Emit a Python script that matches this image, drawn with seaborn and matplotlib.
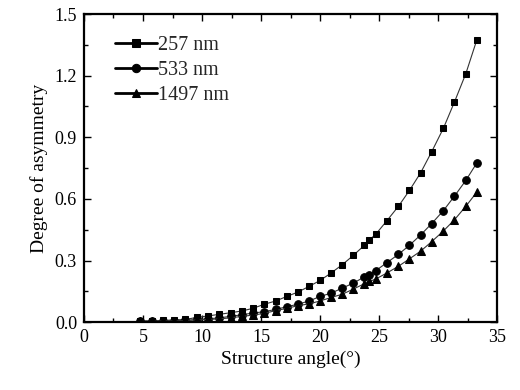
import matplotlib
matplotlib.use("Agg")
import matplotlib.pyplot as plt
import seaborn as sns
import pandas as pd
from matplotlib.ticker import MultipleLocator

angles = [4.75, 5.73, 6.72, 7.65, 8.59, 9.55, 10.48, 11.47, 12.43, 13.36, 14.30,
          15.28, 16.24, 17.18, 18.11, 19.07, 20.00, 20.93, 21.89, 22.82, 23.75,
          24.18, 24.72, 25.65, 26.64, 27.57, 28.53, 29.46, 30.45, 31.38, 32.35, 33.28]

asym_257 = [0.006, 0.006, 0.008, 0.011, 0.013, 0.023, 0.030, 0.038, 0.046, 0.054, 0.067,
            0.087, 0.103, 0.125, 0.146, 0.174, 0.203, 0.239, 0.280, 0.325, 0.374,
            0.400, 0.428, 0.493, 0.564, 0.641, 0.728, 0.830, 0.944, 1.071, 1.210, 1.374]

asym_533 = [0.004, 0.004, 0.006, 0.006, 0.008, 0.013, 0.016, 0.021, 0.028, 0.036, 0.044,
            0.051, 0.062, 0.075, 0.087, 0.103, 0.125, 0.141, 0.166, 0.190, 0.220,
            0.231, 0.251, 0.289, 0.330, 0.374, 0.425, 0.480, 0.543, 0.613, 0.690, 0.775]

asym_1497 = [0.004, 0.004, 0.006, 0.006, 0.008, 0.011, 0.013, 0.016, 0.021, 0.028, 0.034,
             0.043, 0.056, 0.067, 0.080, 0.089, 0.103, 0.120, 0.136, 0.161, 0.187,
             0.198, 0.210, 0.239, 0.272, 0.308, 0.346, 0.392, 0.444, 0.498, 0.564, 0.633]

series_labels = ["257 nm", "533 nm", "1497 nm"]
series_values = [asym_257, asym_533, asym_1497]
series_markers = ["s", "o", "^"]

sns.set_theme(style="ticks")
plt.rcParams['font.family'] = ['Liberation Serif', 'DejaVu Serif']
plt.rcParams['mathtext.fontset'] = 'stix'

fig = plt.figure(figsize=(5.2, 3.9), dpi=100)
ax = fig.add_axes([0.1615, 0.174, 0.7945, 0.79])

for lab, vals, mk in zip(series_labels, series_values, series_markers):
    df = pd.DataFrame({"angle": angles, "asym": vals})
    sns.lineplot(data=df, x="angle", y="asym", ax=ax, color="#333333", linewidth=0.8,
                 marker=mk, markersize=5.5 if mk != "s" else 5,
                 markerfacecolor="black", markeredgecolor="black", label=lab)

ax.set_xlim(0, 35)
ax.set_ylim(0, 1.5)
ax.xaxis.set_major_locator(MultipleLocator(5))
ax.xaxis.set_minor_locator(MultipleLocator(2.5))
ax.yaxis.set_major_locator(MultipleLocator(0.3))
ax.yaxis.set_minor_locator(MultipleLocator(0.15))
ax.yaxis.set_major_formatter(matplotlib.ticker.FormatStrFormatter('%.1f'))
ax.tick_params(which="both", direction="in", top=True, right=True, colors="black",
               labelsize=13, width=1.0)
ax.tick_params(which="major", length=5, pad=5)
ax.tick_params(which="minor", length=3)
for sp in ax.spines.values():
    sp.set_linewidth(1.6)
    sp.set_color("black")

ax.set_xlabel("Structure angle(°)", fontsize=14, color="black", labelpad=3)
ax.set_ylabel("Degree of asymmetry", fontsize=14, color="black", labelpad=5)

leg = ax.legend(loc="upper left", frameon=False, fontsize=14.5, handlelength=2.1,
                handletextpad=0.05, labelspacing=0.3, borderaxespad=0.0,
                bbox_to_anchor=(0.055, 0.955))
for h in leg.legend_handles:
    h.set_linewidth(2.0)
    h.set_color("black")
    h.set_markersize(6)

fig.savefig("out.png", dpi=100)
